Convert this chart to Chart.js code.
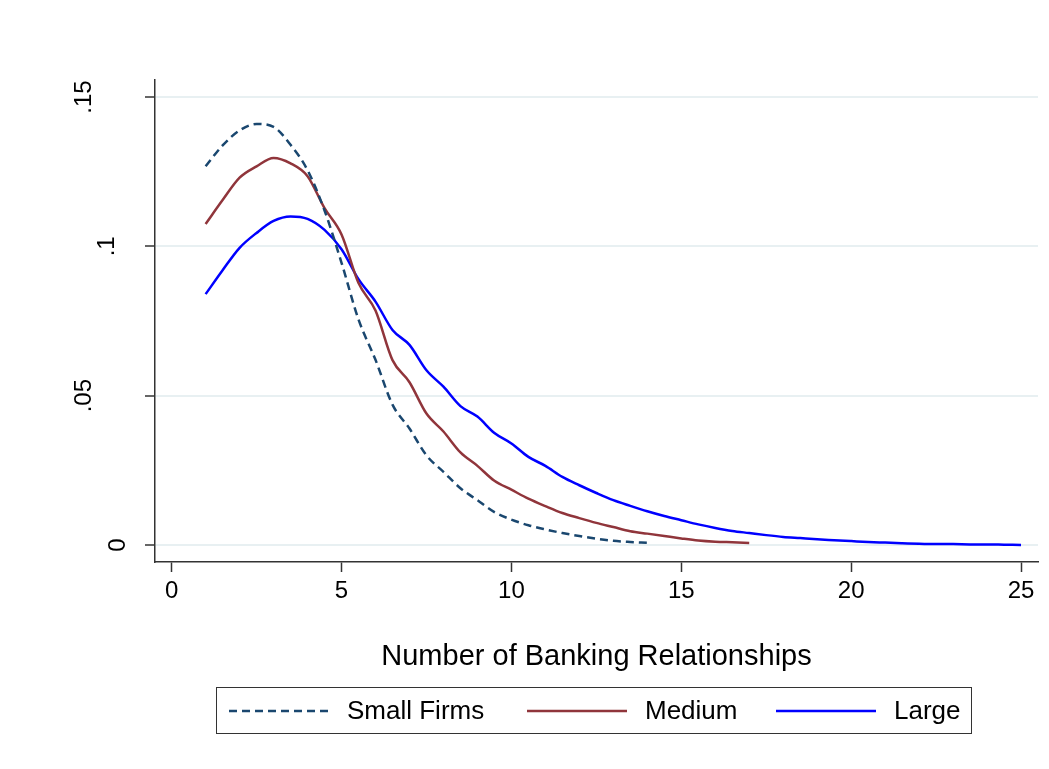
<!DOCTYPE html>
<html>
<head>
<meta charset="utf-8">
<script src="https://cdn.jsdelivr.net/npm/chart.js@4/dist/chart.umd.min.js"></script>
<style>
  html, body { margin: 0; padding: 0; background: #fff; }
  #wrap { position: relative; width: 1049px; height: 769px; }
  #legend {
    position: absolute; left: 216px; top: 687px; width: 756px; height: 47px;
    border: 1.5px solid #333; box-sizing: border-box;
    font-family: "Liberation Sans", Arial, sans-serif; font-size: 26px; color: #000;
  }
  .item { position: absolute; top: 0; height: 100%; display: flex; align-items: center; }
  .item svg { margin-right: 18px; }
</style>
</head>
<body>
<div id="wrap">
  <canvas id="densityChart" width="1049" height="769"></canvas>
  <div id="legend"></div>
</div>
<script>
// evaluation points (number of banking relationships)
const grid = [1, 1.5, 2, 2.5, 3, 3.5, 4, 4.5, 5, 5.5, 6, 6.5, 7, 7.5, 8, 8.5, 9, 9.5, 10,
  10.5, 11, 11.5, 12, 12.5, 13, 13.5, 14, 14.5, 15, 15.5, 16, 16.5, 17, 17.5, 18, 18.5,
  19, 19.5, 20, 20.5, 21, 21.5, 22, 22.5, 23, 23.5, 24, 24.5, 25];

const smallFirms = [0.1268, 0.1338, 0.1388, 0.1410, 0.1400, 0.1340, 0.1255, 0.1120, 0.0945,
  0.0755, 0.0620, 0.0470, 0.0390, 0.0300, 0.0245, 0.0190, 0.0150, 0.0110, 0.0085, 0.0066,
  0.0052, 0.0040, 0.0030, 0.0021, 0.0014, 0.0010, 0.0007];

const medium = [0.1075, 0.1155, 0.1230, 0.1268, 0.1296, 0.1278, 0.1235, 0.1128, 0.1040,
  0.0877, 0.0785, 0.0619, 0.0545, 0.0440, 0.0380, 0.0310, 0.0265, 0.0215, 0.0185, 0.0155,
  0.0130, 0.0107, 0.0090, 0.0074, 0.0060, 0.0046, 0.0038, 0.0030, 0.0022, 0.0015, 0.0011,
  0.0009, 0.0007];

const large = [0.0840, 0.0920, 0.0995, 0.1045, 0.1085, 0.1100, 0.1092, 0.1055, 0.0990,
  0.0890, 0.0815, 0.0720, 0.0670, 0.0585, 0.0530, 0.0465, 0.0430, 0.0375, 0.0340, 0.0295,
  0.0265, 0.0228, 0.0200, 0.0174, 0.0150, 0.0131, 0.0113, 0.0097, 0.0083, 0.0069, 0.0057,
  0.0047, 0.0040, 0.0033, 0.0027, 0.0023, 0.0019, 0.0016, 0.0013, 0.0010, 0.0008, 0.0006,
  0.0004, 0.0003, 0.0003, 0.0002, 0.0002, 0.0001, 0.0000];

const seriesNames = ['Small Firms', 'Medium', 'Large'];
const xTicks = [0, 5, 10, 15, 20, 25];
const yTicks = [0, 0.05, 0.1, 0.15];
const yTickLabels = ['0', '.05', '.1', '.15'];
const xTitle = 'Number of Banking Relationships';

const FONT = '"Liberation Sans", Arial, sans-serif';
const TICK_SIZE = 24;
const axisColor = '#333333';

function points(vals) {
  return vals.map((v, i) => ({ x: grid[i], y: v }));
}

const styles = [
  { color: '#1a476f', dash: [8, 5] },
  { color: '#90353b', dash: [] },
  { color: '#0000ff', dash: [] }
];
const seriesData = [smallFirms, medium, large];

// stata style rotated y labels (longer labels sit further left)
const yLabelPlugin = {
  id: 'yLabels',
  afterDraw(chart) {
    const ctx = chart.ctx;
    const sc = chart.scales.y;
    ctx.save();
    ctx.font = TICK_SIZE + 'px ' + FONT;
    ctx.fillStyle = '#000';
    ctx.textAlign = 'center';
    ctx.textBaseline = 'middle';
    yTicks.forEach((v, i) => {
      const txt = yTickLabels[i];
      const r = ctx.measureText(txt).width / TICK_SIZE;
      const cx = sc.right - 56 - 41 * (r - 1.04);
      const cy = sc.getPixelForValue(v);
      ctx.save();
      ctx.translate(cx, cy);
      ctx.rotate(-Math.PI / 2);
      ctx.fillText(txt, 0, 0);
      ctx.restore();
    });
    ctx.restore();
  }
};

const ctx = document.getElementById('densityChart').getContext('2d');
new Chart(ctx, {
  type: 'line',
  data: {
    datasets: seriesData.map((vals, i) => ({
      label: seriesNames[i],
      data: points(vals),
      borderColor: styles[i].color,
      borderDash: styles[i].dash,
      borderWidth: 2.5,
      pointRadius: 0,
      fill: false,
      cubicInterpolationMode: 'monotone'
    }))
  },
  options: {
    responsive: false,
    animation: false,
    layout: { padding: { top: 80, right: 11, left: 0, bottom: 95 } },
    plugins: {
      legend: { display: false },
      tooltip: { enabled: false }
    },
    scales: {
      x: {
        type: 'linear',
        min: -0.49,
        max: 25.5,
        afterBuildTicks: (s) => { s.ticks = xTicks.map(v => ({ value: v })); },
        afterFit: (s) => { s.height = 112; },
        ticks: {
          color: '#000',
          font: { family: FONT, size: TICK_SIZE },
          padding: 5,
          maxRotation: 0,
          callback: (v) => String(v)
        },
        grid: { drawOnChartArea: false, drawTicks: true, tickLength: 10, tickColor: axisColor, tickWidth: 1.5 },
        border: { color: axisColor, width: 1.5 },
        title: {
          display: true,
          text: xTitle,
          color: '#000',
          font: { family: FONT, size: 29 },
          padding: { top: 0, bottom: 0 }
        }
      },
      y: {
        type: 'linear',
        min: -0.0057,
        max: 0.1557,
        afterBuildTicks: (s) => { s.ticks = yTicks.map(v => ({ value: v })); },
        afterFit: (s) => { s.width = 155; },
        ticks: { display: false },
        grid: {
          color: '#e8f0f2',
          lineWidth: 2,
          drawTicks: true,
          tickLength: 10,
          tickColor: axisColor,
          tickWidth: 1.5
        },
        border: { color: axisColor, width: 1.5 }
      }
    }
  },
  plugins: [yLabelPlugin]
});

// legend built from the series
const legend = document.getElementById('legend');
const itemLeft = [12, 310, 559];
seriesNames.forEach((name, i) => {
  const it = document.createElement('div');
  it.className = 'item';
  it.style.left = itemLeft[i] + 'px';
  const dash = styles[i].dash.length ? 'stroke-dasharray="' + styles[i].dash.join(' ') + '"' : '';
  it.innerHTML = '<svg width="100" height="6"><line x1="0" y1="3" x2="100" y2="3" stroke="' +
    styles[i].color + '" stroke-width="2.5" ' + dash + '/></svg><span>' + name + '</span>';
  legend.appendChild(it);
});
</script>
</body>
</html>
